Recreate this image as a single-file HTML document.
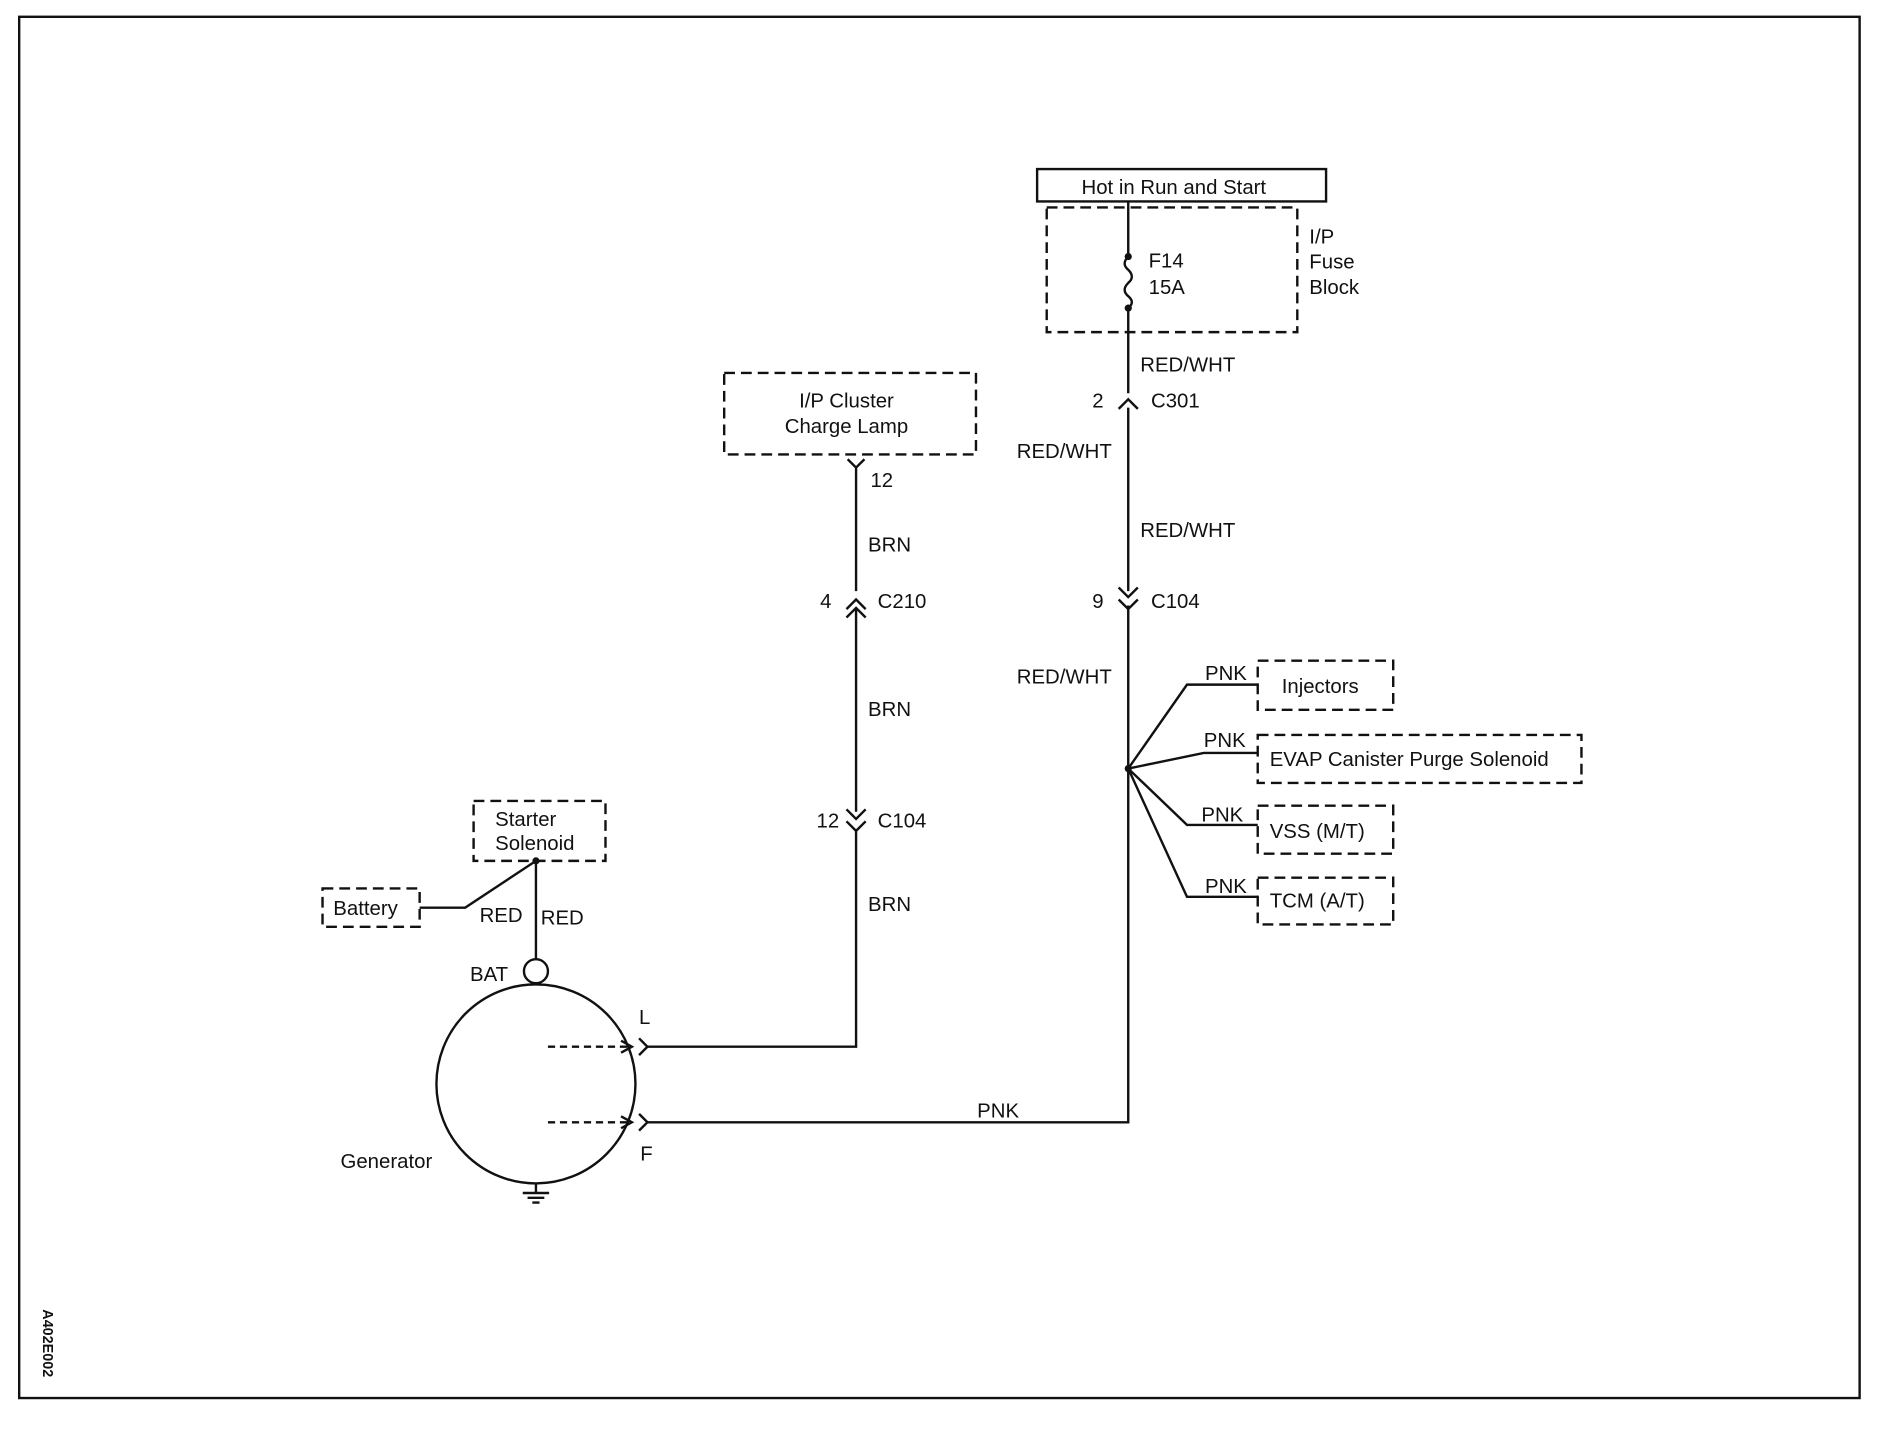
<!DOCTYPE html>
<html><head><meta charset="utf-8"><style>
html,body{margin:0;padding:0;background:#fff;}
svg{display:block;}
text{font-family:"Liberation Sans",sans-serif;font-size:17px;fill:#111;}
</style></head><body>
<svg width="1880" height="1440" viewBox="0 0 1568 1201" preserveAspectRatio="none" xmlns="http://www.w3.org/2000/svg">
<rect x="0" y="0" width="1568" height="1201" fill="#fff"/>
<g fill="none" stroke="#111" stroke-width="2">
<rect x="16" y="14" width="1535" height="1152"/>
<rect x="865" y="141" width="241" height="27"/>
<g stroke-dasharray="9,5">
<rect x="873" y="173" width="209" height="104"/>
<rect x="604" y="311" width="210" height="68"/>
<rect x="1049" y="551" width="113" height="41"/>
<rect x="1049" y="613" width="270" height="40"/>
<rect x="1049" y="672" width="113" height="40"/>
<rect x="1049" y="732" width="113" height="39"/>
<rect x="395" y="668" width="110" height="50"/>
<rect x="269" y="741" width="81" height="32"/>
</g>
<!-- fuse feed -->
<path d="M941 168V214 M941 257V328"/>
<path d="M941 214 q-6 6 0 11 q6 6 0 11 q-6 6 0 11 q6 5 0 10" />
<!-- C301 -->
<path d="M933 341 L941 333 L949 341"/>
<path d="M941 340V493"/>
<!-- C104 right -->
<path d="M933 490 L941 498 L949 490 M933 500 L941 508 L949 500"/>
<path d="M941 505V936 H539"/>
<!-- branches -->
<path d="M941 641 L990 571 H1049 M941 641 L1004 628 H1049 M941 641 L990 688 H1049 M941 641 L990 748 H1049"/>
<!-- left circuit -->
<path d="M707 383 L714 390 L721 383 M714 390V493"/>
<path d="M706 508 L714 500 L722 508 M706 515 L714 507 L722 515 M714 508V677"/>
<path d="M706 675 L714 683 L722 675 M706 685 L714 693 L722 685 M714 692V873 H539"/>
<path d="M533 866 L540 873 L533 880 M533 929 L540 936 L533 943"/>
<circle cx="447" cy="904" r="83"/>
<circle cx="447" cy="810" r="10"/>
<path d="M447 800V718 M350 757H388L447 718"/>
<path d="M447 987V995 M436 995H458 M440 999H454 M444 1003H450"/>
<g stroke-dasharray="6,4"><path d="M457 873H524 M457 936H524"/></g>
<path d="M518 868L527 873L518 878 M518 931L527 936L518 941"/>
</g>
<circle cx="941" cy="214" r="3" fill="#111"/>
<circle cx="941" cy="257" r="3" fill="#111"/>
<circle cx="941" cy="641" r="3" fill="#111"/>
<circle cx="447" cy="718" r="3" fill="#111"/>
<text x="979" y="162" text-anchor="middle">Hot in Run and Start</text>
<text x="958" y="223">F14</text><text x="958" y="245">15A</text>
<text x="1092" y="203">I/P</text><text x="1092" y="224">Fuse</text><text x="1092" y="245">Block</text>
<text x="951" y="310">RED/WHT</text>
<text x="911" y="340">2</text><text x="960" y="340">C301</text>
<text x="848" y="382">RED/WHT</text>
<text x="951" y="448">RED/WHT</text>
<text x="911" y="507">9</text><text x="960" y="507">C104</text>
<text x="848" y="570">RED/WHT</text>
<text x="1005" y="567">PNK</text><text x="1004" y="623">PNK</text><text x="1002" y="685">PNK</text><text x="1005" y="745">PNK</text>
<text x="1069" y="578">Injectors</text>
<text x="1059" y="639">EVAP Canister Purge Solenoid</text>
<text x="1059" y="699">VSS (M/T)</text>
<text x="1059" y="757">TCM (A/T)</text>
<text x="706" y="340" text-anchor="middle">I/P Cluster</text>
<text x="706" y="361" text-anchor="middle">Charge Lamp</text>
<text x="726" y="406">12</text>
<text x="724" y="460">BRN</text>
<text x="684" y="507">4</text><text x="732" y="507">C210</text>
<text x="724" y="597">BRN</text>
<text x="681" y="690">12</text><text x="732" y="690">C104</text>
<text x="724" y="760">BRN</text>
<text x="815" y="932">PNK</text>
<text x="413" y="689">Starter</text><text x="413" y="709">Solenoid</text>
<text x="278" y="763">Battery</text>
<text x="400" y="769">RED</text><text x="451" y="771">RED</text>
<text x="392" y="818">BAT</text>
<text x="533" y="854">L</text><text x="534" y="968">F</text>
<text x="284" y="974">Generator</text>
<text x="0" y="0" transform="translate(36,1092) rotate(90)" style="font-size:12px;font-weight:bold">A402E002</text>
</svg>
</body></html>
